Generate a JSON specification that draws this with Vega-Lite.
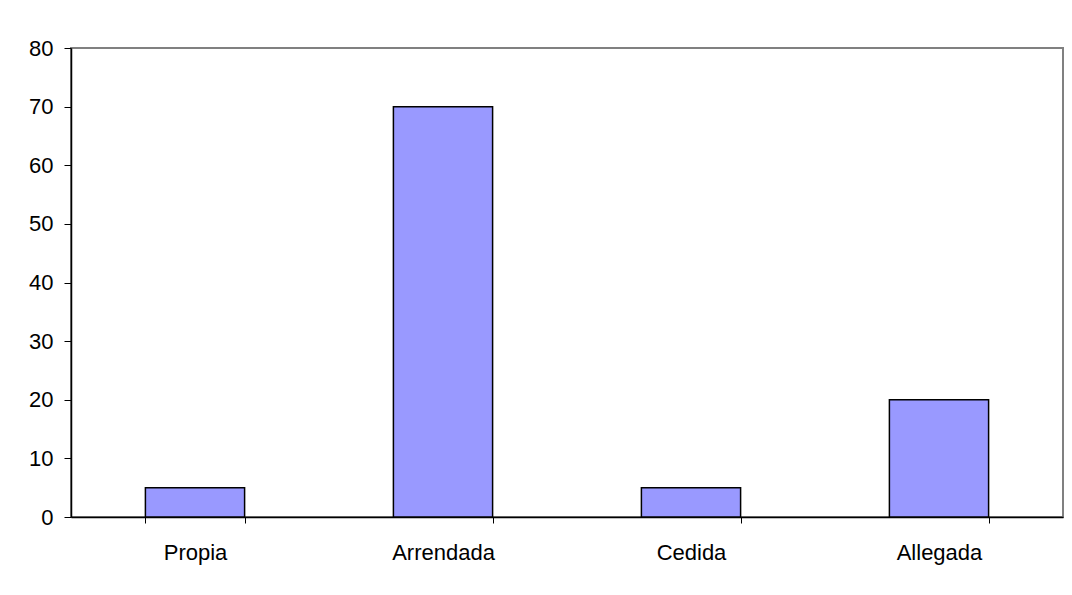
{
  "$schema": "https://vega.github.io/schema/vega-lite/v6.json",
  "autosize": {"type": "none"},
  "width": 992,
  "height": 469,
  "padding": {"left": 71, "top": 48, "right": 9, "bottom": 78},
  "background": "white",
  "config": {
    "view": {"stroke": "#808080", "strokeWidth": 2},
    "font": "Liberation Sans"
  },
  "data": {
    "values": [
      {"tipo": "Propia", "valor": 5},
      {"tipo": "Arrendada", "valor": 70},
      {"tipo": "Cedida", "valor": 5},
      {"tipo": "Allegada", "valor": 20}
    ]
  },
  "mark": {"type": "bar", "fill": "#9999FF", "stroke": "#000000", "strokeWidth": 1.5},
  "encoding": {
    "x": {
      "field": "tipo",
      "type": "nominal",
      "sort": null,
      "scale": {"paddingInner": 0.6, "paddingOuter": 0.3},
      "axis": {
        "title": null,
        "labelAngle": 0,
        "labelFont": "Liberation Sans",
        "labelFontSize": 22,
        "labelColor": "#000000",
        "labelPadding": 19,
        "tickBand": "extent",
        "tickSize": 6,
        "tickColor": "#000000",
        "domainColor": "#000000",
        "domainWidth": 1.5,
        "grid": false
      }
    },
    "y": {
      "field": "valor",
      "type": "quantitative",
      "scale": {"domain": [0, 80]},
      "axis": {
        "title": null,
        "values": [0, 10, 20, 30, 40, 50, 60, 70, 80],
        "labelFont": "Liberation Sans",
        "labelFontSize": 22,
        "labelColor": "#000000",
        "labelPadding": 11,
        "tickSize": 7,
        "tickColor": "#000000",
        "domainColor": "#000000",
        "domainWidth": 1.5,
        "grid": false
      }
    }
  }
}
